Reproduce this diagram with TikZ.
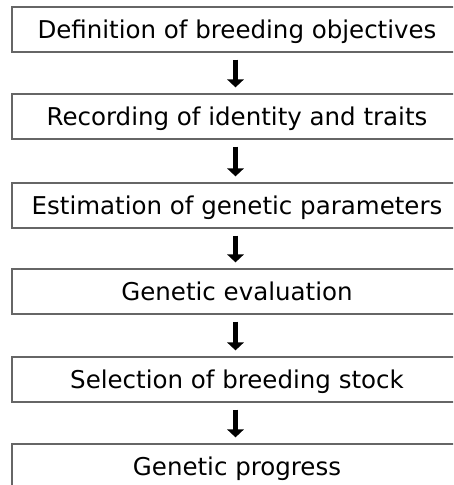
\documentclass[tikz,border=0pt]{standalone}
\usepackage{fontspec}
\setmainfont{DejaVu Sans}
\usetikzlibrary{arrows.meta}
\tikzset{
  stagebox/.style={draw=black!60, line width=1.3pt, minimum width=450pt, minimum height=45pt,
    inner sep=0pt, text height=17.9pt, text depth=0pt,
    font=\fontsize{24.5}{29}\selectfont},
  flowarrow/.style={line width=5.5pt, -{Triangle[width=16.5pt,length=8pt]}, black,
    shorten <=7pt, shorten >=6pt}
}
\begin{document}
\begin{tikzpicture}[x=1pt,y=-1pt]
\clip (0,0) rectangle (453,485);
\node[stagebox] (b1) at (237,29.5) {Definition of breeding objectives};
\node[stagebox] (b2) at (237,116.5) {Recording of identity and traits};
\node[stagebox] (b3) at (237,205.5) {Estimation of genetic parameters};
\node[stagebox] (b4) at (237,291.5) {Genetic evaluation};
\node[stagebox] (b5) at (237,379.5) {Selection of breeding stock};
\node[stagebox] (b6) at (237,466.5) {Genetic progress};
\foreach \a/\b in {b1/b2,b2/b3,b3/b4,b4/b5,b5/b6}
  \draw[flowarrow] ([xshift=-1.5pt]\a.south) -- ([xshift=-1.5pt]\b.north);
\end{tikzpicture}
\end{document}
